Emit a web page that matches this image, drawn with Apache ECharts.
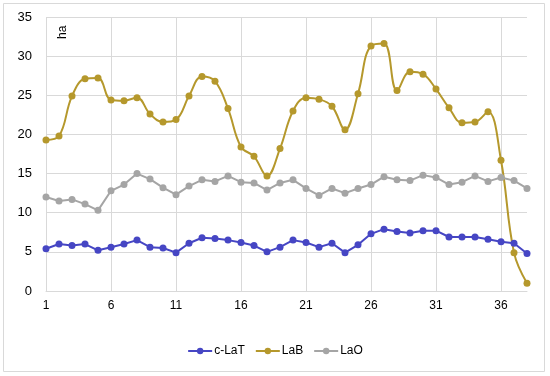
<!DOCTYPE html>
<html><head><meta charset="utf-8">
<script src="https://cdn.jsdelivr.net/npm/echarts@6/dist/echarts.min.js"></script>
<style>html,body{margin:0;padding:0;background:#fff}#c{width:550px;height:376px}</style>
</head><body><div id="c"></div>
<script>
const categories = Array.from({length:38},(_,i)=>String(i+1));
const cLaT = [5.4,6.0,5.8,6.0,5.2,5.6,6.0,6.5,5.6,5.5,4.9,6.1,6.8,6.7,6.5,6.2,5.8,5.0,5.6,6.5,6.2,5.6,6.1,4.9,5.9,7.3,7.9,7.6,7.4,7.7,7.7,6.9,6.9,6.9,6.6,6.3,6.1,4.8];
const LaB = [19.3,19.8,24.9,27.1,27.2,24.4,24.3,24.7,22.6,21.6,21.9,24.9,27.4,26.8,23.3,18.4,17.2,14.7,18.2,23.0,24.7,24.5,23.6,20.6,25.2,31.3,31.6,25.6,28.0,27.7,25.8,23.4,21.5,21.6,22.9,16.7,4.9,1.0];
const LaO = [12.0,11.5,11.7,11.1,10.3,12.8,13.6,15.0,14.3,13.2,12.3,13.4,14.2,14.0,14.7,13.9,13.8,12.9,13.8,14.2,13.1,12.2,13.1,12.5,13.1,13.6,14.6,14.2,14.1,14.8,14.5,13.6,13.9,14.7,14.0,14.5,14.1,13.1];
const xTickLabels = ['1','6','11','16','21','26','31','36'];
const yUnit = 'ha';

const chart = echarts.init(document.getElementById('c'));
const font = 'Liberation Sans';
chart.setOption({
  animation:false,
  textStyle:{fontFamily:font},
  graphic:[
    {type:'rect',shape:{x:3.5,y:3.5,width:541,height:368},style:{fill:null,stroke:'#d9d9d9',lineWidth:1},z:-1},
    {type:'text',x:57,y:39,rotation:Math.PI/2,style:{text:yUnit,font:'12px '+font,fill:'#000'}}
  ],
  grid:{left:46,right:23,top:17,bottom:85},
  legend:{bottom:14,left:'center',itemWidth:24,itemHeight:8,itemGap:10,
    textStyle:{fontSize:12,color:'#000',fontFamily:font,padding:[0,0,0,-3]},
    data:['c-LaT','LaB','LaO']},
  xAxis:{type:'category',data:categories,boundaryGap:false,
    axisLine:{lineStyle:{color:'#d9d9d9'}},axisTick:{show:false},
    axisLabel:{color:'#000',fontSize:12,margin:9,interval:0,
      formatter:v=>xTickLabels.includes(v)?v:''},
    splitLine:{show:true,interval:(i,v)=>xTickLabels.includes(v),lineStyle:{color:'#d9d9d9'}}},
  yAxis:{type:'value',min:0,max:35,interval:5,
    axisLine:{show:false},axisTick:{show:false},
    axisLabel:{color:'#000',fontSize:13,margin:14},
    splitLine:{lineStyle:{color:'#d9d9d9'}}},
  series:[
    {name:'c-LaT',type:'line',data:cLaT,symbol:'circle',symbolSize:7,
      itemStyle:{color:'#4646c4'},lineStyle:{width:2,color:'#4646c4'}},
    {name:'LaB',type:'line',data:LaB,smooth:0.4,symbol:'circle',symbolSize:7,
      itemStyle:{color:'#b5982c'},lineStyle:{width:2,color:'#b5982c'}},
    {name:'LaO',type:'line',data:LaO,symbol:'circle',symbolSize:7,
      itemStyle:{color:'#a5a5a5'},lineStyle:{width:2,color:'#a5a5a5'}}
  ]
});
</script></body></html>
